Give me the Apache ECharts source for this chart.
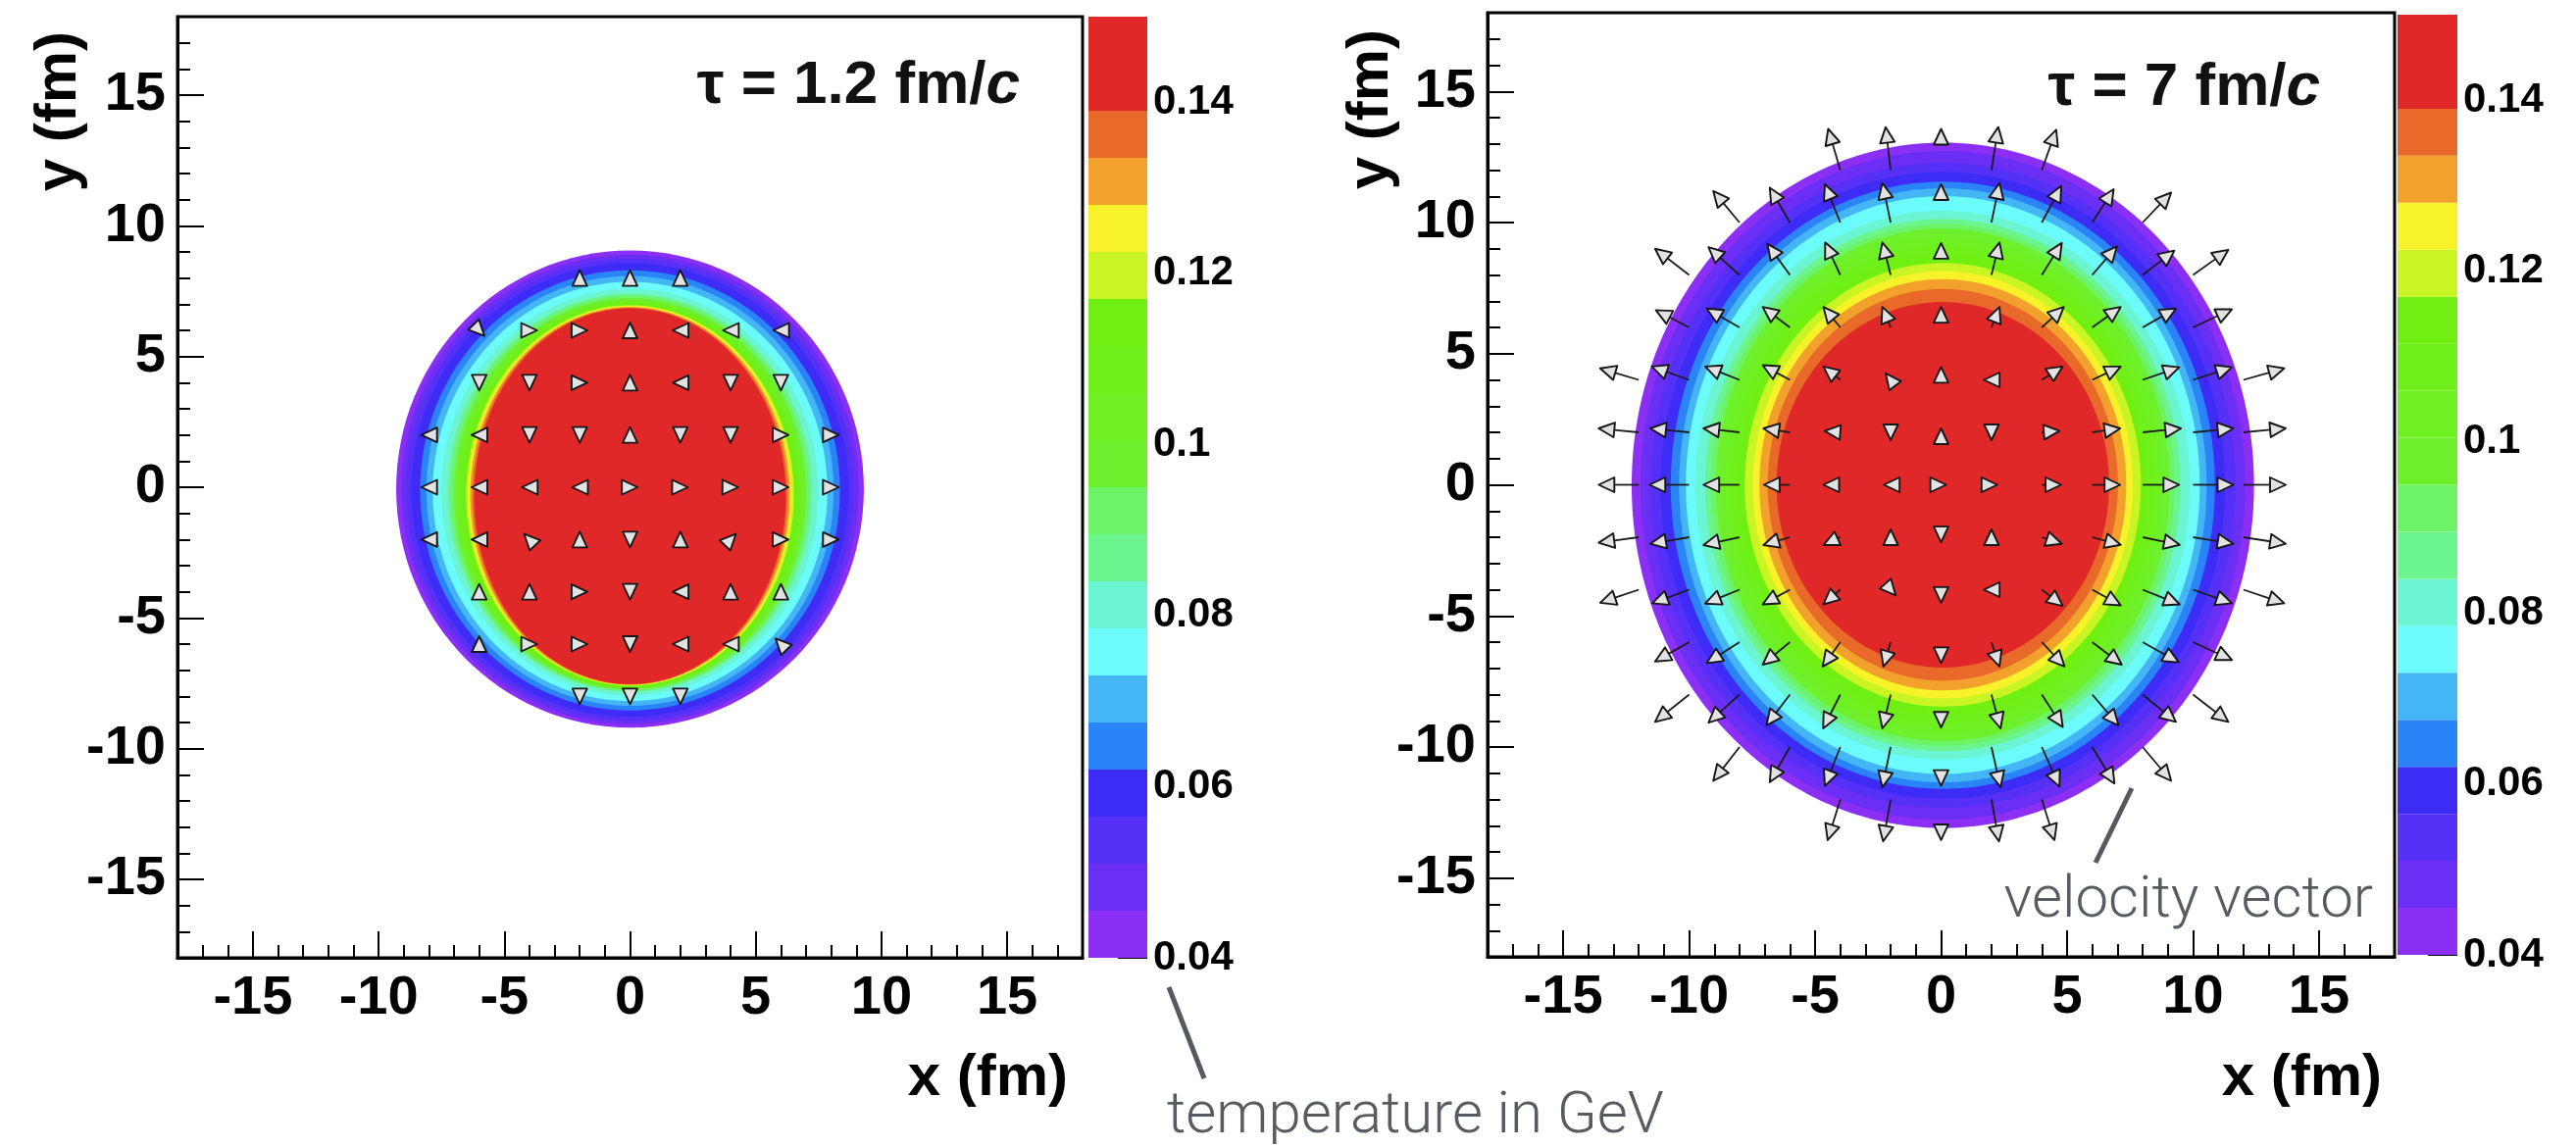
<!DOCTYPE html>
<html>
<head>
<meta charset="utf-8">
<script src="https://cdn.jsdelivr.net/npm/echarts@6/dist/echarts.min.js"></script>
<style>
  html, body { margin: 0; padding: 0; background: #ffffff; }
  #chart { width: 2627px; height: 1170px; }
</style>
</head>
<body>
<div id="chart"></div>
<script>
// Temperature contour edges in GeV: 20 bands between 0.04 and 0.15
const levelEdges = [0.04, 0.0455, 0.051, 0.0565, 0.062, 0.0675, 0.073, 0.0785, 0.084, 0.0895,
                    0.095, 0.1005, 0.106, 0.1115, 0.117, 0.1225, 0.128, 0.1335, 0.139, 0.1445, 0.15];
// One colour per band, coldest first
const bandColors = ['#8a2ff3', '#6a2ef5', '#5530f6', '#3d2cf5', '#2a84f7', '#44b5f5', '#6cfbfb',
                    '#6cf5d2', '#6cf48e', '#6cf368', '#6ef02c', '#6ef022', '#6ff01a', '#70f012',
                    '#c8f523', '#f7f22a', '#f2a12c', '#e8692a', '#e02828', '#e02828'];
const tempTicks = [0.04, 0.06, 0.08, 0.1, 0.12, 0.14];
const fmTicks = [-15, -10, -5, 0, 5, 10, 15];

// Iso-temperature boundaries at each contour edge: [cx, cy, rx, ry] in fm
const isoEarly = [
  [0, -0.07, 9.30, 9.13], [0, -0.08, 9.10, 8.98], [0, -0.09, 8.90, 8.83], [0, -0.10, 8.70, 8.68],
  [0, -0.12, 8.35, 8.42], [0, -0.14, 8.10, 8.22], [0, -0.16, 7.85, 8.02], [0, -0.19, 7.50, 7.78],
  [0, -0.21, 7.25, 7.62], [0, -0.23, 7.12, 7.55], [0, -0.25, 7.00, 7.48], [0, -0.27, 6.88, 7.42],
  [0, -0.29, 6.76, 7.37], [0, -0.30, 6.64, 7.32], [0, -0.31, 6.52, 7.28], [0, -0.32, 6.44, 7.25],
  [0, -0.33, 6.36, 7.23], [0, -0.34, 6.28, 7.21], [0, -0.35, 6.20, 7.19], [0, -0.35, 5.20, 6.20]
];
const isoLate = [
  [0.07, -0.02, 12.35, 13.07], [0.07, -0.02, 12.00, 12.75], [0.07, -0.02, 11.60, 12.30], [0.07, -0.02, 11.20, 11.95],
  [0.07, -0.02, 10.80, 11.58], [0.07, -0.02, 10.47, 11.33], [0.07, -0.01, 10.20, 11.02], [0.07, -0.01, 9.82, 10.46],
  [0.07, -0.01, 9.43, 10.15], [0.07, -0.01, 9.20, 9.95], [0.07, 0, 9.00, 9.77], [0.07, 0, 8.70, 9.45],
  [0.07, 0, 8.40, 9.10], [0.07, 0, 8.10, 8.80], [0.07, 0, 7.86, 8.46], [0.07, 0, 7.54, 8.15],
  [0.07, 0, 7.28, 7.84], [0.07, 0, 6.95, 7.47], [0.07, 0, 6.60, 6.97], [0.07, 0, 5.50, 5.80]
];

// Velocity vectors: [x, y, xTip, yTip] in fm
const flowEarly = [
  [-2, 8, -2, 8.3], [0, 8, 0, 8.3], [2, 8, 2, 8.3],
  [-6, 6, -5.79, 5.79], [-4, 6, -3.7, 6], [-2, 6, -1.7, 6], [0, 6, 0, 6.3], [2, 6, 1.7, 6], [4, 6, 3.7, 6], [6, 6, 5.7, 6],
  [-6, 4, -6, 3.7], [-4, 4, -4, 3.7], [-2, 4, -1.7, 4], [0, 4, 0, 4.3], [2, 4, 1.7, 4], [4, 4, 4, 3.7], [6, 4, 6, 3.7],
  [-8, 2, -8.3, 2], [-6, 2, -6.3, 2], [-4, 2, -4, 1.7], [-2, 2, -2, 1.7], [0, 2, 0, 2.3], [2, 2, 2, 1.7], [4, 2, 4, 1.7], [6, 2, 6.3, 2], [8, 2, 8.3, 2],
  [-8, 0, -8.3, 0], [-6, 0, -6.3, 0], [-4, 0, -4.3, 0], [-2, 0, -2.3, 0], [0, 0, 0.3, 0], [2, 0, 2.3, 0], [4, 0, 4.3, 0], [6, 0, 6.3, 0], [8, 0, 8.3, 0],
  [-8, -2, -8.3, -2], [-6, -2, -6.3, -2], [-4, -2, -4.21, -1.79], [-2, -2, -2, -1.7], [0, -2, 0, -2.3], [2, -2, 2, -1.7], [4, -2, 4.21, -1.79], [6, -2, 6.3, -2], [8, -2, 8.3, -2],
  [-6, -4, -6, -3.7], [-4, -4, -4, -3.7], [-2, -4, -1.7, -4], [0, -4, 0, -4.3], [2, -4, 1.7, -4], [4, -4, 4, -3.7], [6, -4, 6, -3.7],
  [-6, -6, -6, -5.7], [-4, -6, -3.7, -6], [-2, -6, -1.7, -6], [0, -6, 0, -6.3], [2, -6, 1.7, -6], [4, -6, 3.7, -6], [6, -6, 5.79, -5.79],
  [-2, -8, -2, -8.3], [0, -8, 0, -8.3], [2, -8, 2, -8.3]
];
const flowLate = [
  [-4, 12, -4.48, 13.57], [-2, 12, -2.2, 13.64], [0, 12, 0, 13.57], [2, 12, 2.27, 13.64], [4, 12, 4.57, 13.54],
  [-8, 10, -9.04, 11.2], [-6, 10, -6.8, 11.33], [-4, 10, -4.61, 11.46], [-2, 10, -2.33, 11.5], [0, 10, 0, 11.46],
  [2, 10, 2.32, 11.5], [4, 10, 4.77, 11.39], [6, 10, 6.85, 11.27], [8, 10, 9.13, 11.14],
  [-10, 8, -11.35, 9.0], [-8, 8, -9.23, 9.06], [-6, 8, -6.89, 9.18], [-4, 8, -4.6, 9.24], [-2, 8, -2.33, 9.24], [0, 8, 0, 9.22],
  [2, 8, 2.32, 9.24], [4, 8, 4.79, 9.22], [6, 8, 6.98, 9.09], [8, 8, 9.26, 8.93], [10, 8, 11.4, 8.96],
  [-10, 6, -11.32, 6.66], [-8, 6, -9.3, 6.72], [-6, 6, -7.08, 6.78], [-4, 6, -4.67, 6.78], [-2, 6, -2.33, 6.78], [0, 6, 0, 6.78],
  [2, 6, 2.32, 6.78], [4, 6, 4.87, 6.78], [6, 6, 7.13, 6.78], [8, 6, 9.32, 6.72], [10, 6, 11.54, 6.69],
  [-12, 4, -13.53, 4.44], [-10, 4, -11.48, 4.51], [-8, 4, -9.36, 4.51], [-6, 4, -7.08, 4.56], [-4, 4, -4.67, 4.51], [-2, 4, -2.2, 4.25], [0, 4, 0, 4.49],
  [2, 4, 1.7, 4], [4, 4, 4.83, 4.51], [6, 4, 7.13, 4.51], [8, 4, 9.45, 4.48], [10, 4, 11.54, 4.48], [12, 4, 13.62, 4.44],
  [-12, 2, -13.59, 2.15], [-10, 2, -11.54, 2.15], [-8, 2, -9.43, 2.15], [-6, 2, -7.05, 2.15], [-4, 2, -4.62, 2.05], [-2, 2, -2, 1.7], [0, 2, 0, 2.15],
  [2, 2, 2, 1.7], [4, 2, 4.7, 2.05], [6, 2, 7.11, 2.15], [8, 2, 9.52, 2.15], [10, 2, 11.6, 2.15], [12, 2, 13.68, 2.15],
  [-12, 0, -13.59, 0], [-10, 0, -11.57, 0], [-8, 0, -9.43, 0], [-6, 0, -7.03, 0], [-4, 0, -4.67, 0], [-2, 0, -2.27, 0], [0, 0, 0.2, 0],
  [2, 0, 2.23, 0], [4, 0, 4.77, 0], [6, 0, 7.11, 0], [8, 0, 9.45, 0], [10, 0, 11.6, 0], [12, 0, 13.68, 0],
  [-12, -2, -13.59, -2.21], [-10, -2, -11.54, -2.25], [-8, -2, -9.43, -2.3], [-6, -2, -7.05, -2.3], [-4, -2, -4.67, -2.3], [-2, -2, -2, -1.7], [0, -2, 0, -2.19],
  [2, -2, 2, -1.7], [4, -2, 4.79, -2.25], [6, -2, 7.13, -2.29], [8, -2, 9.47, -2.29], [10, -2, 11.6, -2.25], [12, -2, 13.68, -2.25],
  [-12, -4, -13.53, -4.5], [-10, -4, -11.46, -4.52], [-8, -4, -9.36, -4.53], [-6, -4, -7.08, -4.56], [-4, -4, -4.67, -4.56], [-2, -4, -1.8, -4.22], [0, -4, 0, -4.5],
  [2, -4, 1.7, -4], [4, -4, 4.83, -4.62], [6, -4, 7.13, -4.6], [8, -4, 9.47, -4.56], [10, -4, 11.54, -4.52], [12, -4, 13.62, -4.52],
  [-10, -6, -11.35, -6.74], [-8, -6, -9.3, -6.8], [-6, -6, -7.08, -6.86], [-4, -6, -4.7, -6.93], [-2, -6, -2.29, -6.93], [0, -6, 0, -6.8],
  [2, -6, 2.32, -6.93], [4, -6, 4.9, -6.93], [6, -6, 7.17, -6.86], [8, -6, 9.43, -6.77], [10, -6, 11.54, -6.68],
  [-10, -8, -11.35, -9.04], [-8, -8, -9.23, -9.07], [-6, -8, -6.93, -9.17], [-4, -8, -4.68, -9.29], [-2, -8, -2.33, -9.29], [0, -8, 0, -9.26],
  [2, -8, 2.36, -9.29], [4, -8, 4.83, -9.24], [6, -8, 7.04, -9.17], [8, -8, 9.32, -9.04], [10, -8, 11.4, -9.04],
  [-8, -10, -9.04, -11.29], [-6, -10, -6.8, -11.34], [-4, -10, -4.61, -11.48], [-2, -10, -2.33, -11.53], [0, -10, 0, -11.48],
  [2, -10, 2.36, -11.53], [4, -10, 4.7, -11.51], [6, -10, 6.88, -11.39], [8, -10, 9.13, -11.29],
  [-4, -12, -4.5, -13.55], [-2, -12, -2.3, -13.6], [0, -12, 0, -13.55], [2, -12, 2.3, -13.6], [4, -12, 4.5, -13.55]
];

const FONT = '"Liberation Sans", Arial, Helvetica, sans-serif';
const NOTE_FONT = 'Roboto, "Open Sans", sans-serif';

// Filled iso-temperature regions, outermost first so warmer bands paint over colder ones
function renderIso(params, api) {
  const c = api.coord([api.value(0), api.value(1)]);
  const s = api.size([api.value(2), api.value(3)]);
  return {
    type: 'ellipse',
    shape: { cx: c[0], cy: c[1], rx: s[0], ry: s[1] },
    style: { fill: bandColors[api.value(4)] }
  };
}

// Velocity arrow: shaft from the cell centre, filled head at the tip
function renderArrow(params, api) {
  const x1 = api.value(0), y1 = api.value(1), x2 = api.value(2), y2 = api.value(3);
  const p1 = api.coord([x1, y1]);
  const p2 = api.coord([x2, y2]);
  const dx = p2[0] - p1[0], dy = p2[1] - p1[1];
  const len = Math.hypot(dx, dy) || 1;
  const ux = dx / len, uy = dy / len;
  const L = 16, W = 7.5;
  const bx = p2[0] - ux * L, by = p2[1] - uy * L;
  const children = [];
  // shafts on the x = 0 symmetry axis are not drawn
  if (x1 !== x2 && len > L) {
    children.push({
      type: 'line',
      shape: { x1: p1[0], y1: p1[1], x2: bx, y2: by },
      style: { stroke: '#1c1c1c', lineWidth: 1.8 }
    });
  }
  children.push({
    type: 'polygon',
    shape: { points: [[p2[0], p2[1]], [bx - uy * W, by + ux * W], [bx + uy * W, by - ux * W]] },
    style: { fill: '#e2e2e2', stroke: '#161616', lineWidth: 1.9, lineJoin: 'round' }
  });
  return { type: 'group', children };
}

// Colour-scale band between two contour edges
function renderBand(params, api) {
  const lo = api.coord([0, api.value(0)]);
  const hi = api.coord([1, api.value(1)]);
  return {
    type: 'rect',
    shape: { x: lo[0], y: hi[1], width: hi[0] - lo[0], height: lo[1] - hi[1] },
    style: { fill: bandColors[api.value(2)] }
  };
}

const isoData = iso => iso.map((b, k) => [b[0], b[1], b[2], b[3], k]);
const bandData = bandColors.map((c, i) => [levelEdges[i], levelEdges[i + 1], i]);

const panels = [
  { left: 181, top: 17, width: 923, height: 960 },
  { left: 1517, top: 13, width: 925, height: 963 }
];
const bars = [
  { left: 1110, top: 17, width: 60, height: 960 },
  { left: 2445, top: 15, width: 61, height: 959 }
];

const grids = [];
const xAxes = [];
const yAxes = [];
panels.forEach((p, i) => {
  grids.push(Object.assign({ show: true, borderColor: '#000', borderWidth: 3, backgroundColor: 'transparent' }, p));
  const g = grids.length - 1;
  // major ticks with labels
  xAxes.push({
    gridIndex: g, type: 'value', min: -18, max: 18, position: 'bottom',
    axisLine: { show: true, onZero: false, lineStyle: { color: '#000', width: 3 } },
    axisTick: { show: true, inside: true, length: 27, customValues: fmTicks, lineStyle: { color: '#000', width: 2 } },
    axisLabel: { show: true, customValues: fmTicks, fontSize: 56, fontWeight: 'bold', color: '#000', fontFamily: FONT, margin: 14 },
    splitLine: { show: false }
  });
  yAxes.push({
    gridIndex: g, type: 'value', min: -18, max: 18, position: 'left',
    axisLine: { show: true, onZero: false, lineStyle: { color: '#000', width: 3 } },
    axisTick: { show: true, inside: true, length: 27, customValues: fmTicks, lineStyle: { color: '#000', width: 2 } },
    axisLabel: { show: true, customValues: fmTicks, fontSize: 56, fontWeight: 'bold', color: '#000', fontFamily: FONT, margin: 12 },
    splitLine: { show: false }
  });
  // minor ticks every fm
  xAxes.push({
    gridIndex: g, type: 'value', min: -18, max: 18, interval: 1, position: 'bottom',
    axisLine: { show: false, onZero: false }, axisLabel: { show: false }, splitLine: { show: false },
    axisTick: { show: true, inside: true, length: 13, lineStyle: { color: '#000', width: 2 } }
  });
  yAxes.push({
    gridIndex: g, type: 'value', min: -18, max: 18, interval: 1, position: 'left',
    axisLine: { show: false, onZero: false }, axisLabel: { show: false }, splitLine: { show: false },
    axisTick: { show: true, inside: true, length: 13, lineStyle: { color: '#000', width: 2 } }
  });
});
bars.forEach(b => {
  grids.push(Object.assign({ show: false }, b));
  const g = grids.length - 1;
  xAxes.push({ gridIndex: g, type: 'value', min: 0, max: 1, show: false, axisLine: { onZero: false } });
  yAxes.push({
    gridIndex: g, type: 'value', min: 0.04, max: 0.15, position: 'right',
    axisLine: { show: false, onZero: false },
    axisTick: { show: true, inside: true, length: 30, customValues: tempTicks, lineStyle: { color: '#000', width: 2 } },
    axisLabel: { show: true, customValues: tempTicks, fontSize: 42, fontWeight: 'bold', color: '#000', fontFamily: FONT, margin: 6 },
    splitLine: { show: false }
  });
});

const series = [
  { type: 'custom', name: 'T early', xAxisIndex: 0, yAxisIndex: 0, renderItem: renderIso, data: isoData(isoEarly), clip: true, z: 1, silent: true },
  { type: 'custom', name: 'v early', xAxisIndex: 0, yAxisIndex: 0, renderItem: renderArrow, data: flowEarly, clip: true, z: 2, silent: true },
  { type: 'custom', name: 'T late', xAxisIndex: 2, yAxisIndex: 2, renderItem: renderIso, data: isoData(isoLate), clip: true, z: 1, silent: true },
  { type: 'custom', name: 'v late', xAxisIndex: 2, yAxisIndex: 2, renderItem: renderArrow, data: flowLate, clip: true, z: 2, silent: true },
  { type: 'custom', name: 'scale early', xAxisIndex: 4, yAxisIndex: 4, renderItem: renderBand, data: bandData, silent: true },
  { type: 'custom', name: 'scale late', xAxisIndex: 5, yAxisIndex: 5, renderItem: renderBand, data: bandData, silent: true }
];

function tauLabel(x, y, value) {
  return {
    type: 'text', x: x, y: y, z: 10,
    style: {
      text: '{r|τ = ' + value + ' fm/}{i|c}',
      align: 'right', verticalAlign: 'middle',
      rich: {
        r: { fontSize: 62, fontWeight: 'bold', fontFamily: FONT, fill: '#111' },
        i: { fontSize: 62, fontWeight: 'bold', fontStyle: 'italic', fontFamily: FONT, fill: '#111' }
      }
    }
  };
}
function axisTitle(text, x, y, rotated) {
  return {
    type: 'text', x: x, y: y, rotation: rotated ? Math.PI / 2 : 0, z: 10,
    style: { text: text, align: 'right', verticalAlign: 'middle', fontSize: 60, fontWeight: 'bold', fontFamily: FONT, fill: '#000' }
  };
}
function note(text, x, y, align) {
  return {
    type: 'text', x: x, y: y, z: 10,
    style: { text: text, align: align, verticalAlign: 'middle', fontSize: 60, fontWeight: 300, fontFamily: NOTE_FONT, fill: '#575c62' }
  };
}
function pointer(x1, y1, x2, y2) {
  return { type: 'line', z: 10, shape: { x1, y1, x2, y2 }, style: { stroke: '#555a60', lineWidth: 5 } };
}

const chart = echarts.init(document.getElementById('chart'), null, { renderer: 'canvas', width: 2627, height: 1170 });
chart.setOption({
  backgroundColor: '#ffffff',
  animation: false,
  grid: grids,
  xAxis: xAxes,
  yAxis: yAxes,
  series: series,
  graphic: [
    tauLabel(1040, 88, '1.2'),
    tauLabel(2366, 90, '7'),
    axisTitle('y (fm)', 60, 32, true),
    axisTitle('y (fm)', 1398, 30, true),
    axisTitle('x (fm)', 1089, 1100, false),
    axisTitle('x (fm)', 2429, 1100, false),
    pointer(1192, 1007, 1228, 1100),
    pointer(2174, 804, 2137, 880),
    note('temperature in GeV', 1190, 1140, 'left'),
    note('velocity vector', 2420, 920, 'right')
  ]
});
</script>
</body>
</html>
